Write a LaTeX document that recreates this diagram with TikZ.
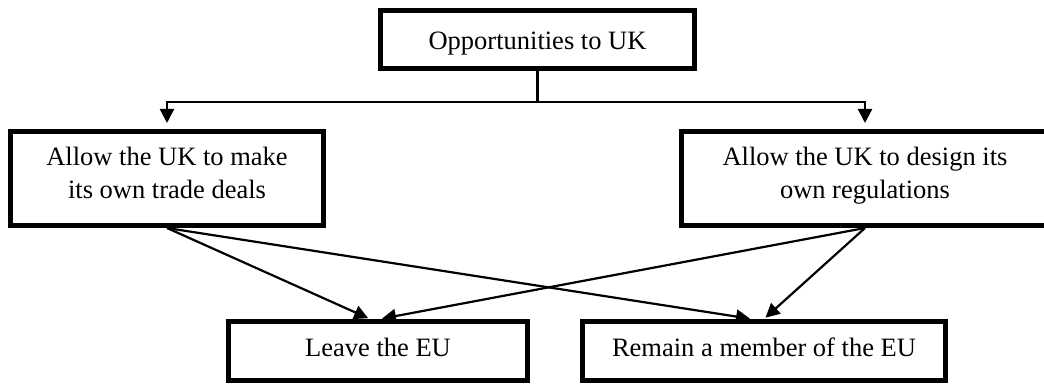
\documentclass[tikz,border=0pt]{standalone}
\usepackage{fontspec}
\setmainfont{Liberation Serif}
\usetikzlibrary{arrows.meta}
\begin{document}
\begin{tikzpicture}[x=1pt,y=-1pt,
  box/.style={draw=black, line width=5pt, inner sep=0pt, font=\fontsize{26.5}{33}\selectfont},
  conn/.style={line width=2.2pt},
  arr/.style={conn, -{Triangle[length=14pt,width=14pt]}}]
\useasboundingbox (0,0) rectangle (1044,385);
\clip (0,0) rectangle (1044,385);
\node[box, minimum width=314pt, minimum height=58pt, text height=19.6pt, text depth=0pt] (top) at (537.5,39.5) {Opportunities to UK};
\node[box, minimum width=313pt, minimum height=94pt, text height=17.5pt, text depth=44.5pt] (lb) at (167,178.5)
  {\begin{tabular}[t]{@{}c@{}}Allow the UK to make\\its own trade deals\end{tabular}};
\node[box, minimum width=367pt, minimum height=94pt, text height=17.5pt, text depth=44.5pt] (rb) at (865,178.5)
  {\begin{tabular}[t]{@{}c@{}}Allow the UK to design its\\own regulations\end{tabular}};
\node[box, minimum width=299pt, minimum height=59pt, text height=17.5pt, text depth=7.5pt] (leave) at (378,351) {Leave the EU};
\node[box, minimum width=363pt, minimum height=59pt, text height=17.5pt, text depth=7.5pt] (rem) at (764,351) {Remain a member of the EU};
\coordinate (j) at (537.5,102);
\draw[conn] (top.south) -- (j);
\draw[arr, shorten >=6pt] (j) -| (lb.north);
\draw[arr, shorten >=6pt] (j) -| (rb.north);
\draw[arr, shorten >=2pt] (lb.south) -- ([xshift=-8pt]leave.north);
\draw[arr, shorten >=2pt] (lb.south) -- ([xshift=-12pt]rem.north);
\draw[arr, shorten >=2pt] (rb.south) -- ([xshift=2pt]leave.north);
\draw[arr, shorten >=2pt] (rb.south) -- (rem.north);
\end{tikzpicture}
\end{document}
